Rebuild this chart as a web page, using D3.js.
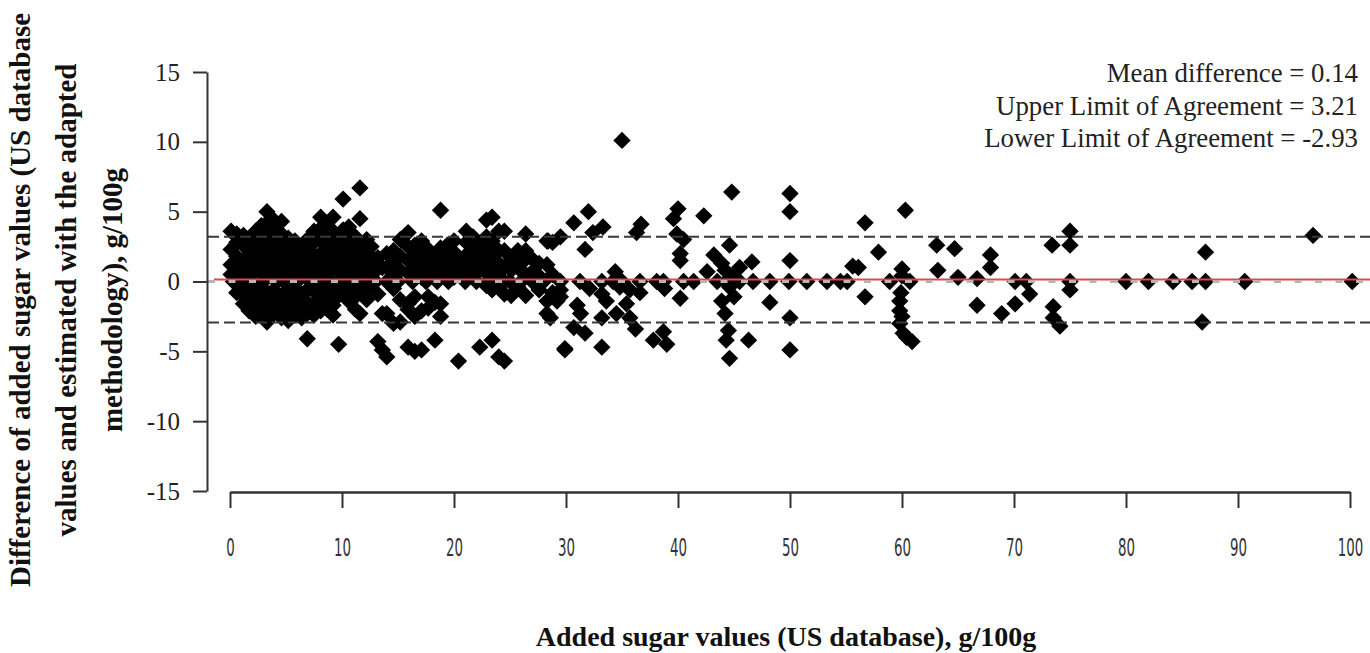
<!DOCTYPE html>
<html><head><meta charset="utf-8">
<script src="https://cdn.jsdelivr.net/npm/d3@7/dist/d3.min.js"></script>
<style>body{margin:0;background:#fff;overflow:hidden}</style>
</head><body>
<svg id="chart" width="1370" height="653"></svg>
<script>
// ---------- DATA ----------
const yTicks = [-15, -10, -5, 0, 5, 10, 15];
const xTicks = [0, 10, 20, 30, 40, 50, 60, 70, 80, 90, 100];
const meanDifference = 0.14;
const upperLimit = 3.21;
const lowerLimit = -2.93;
const statLabels = ["Mean difference = 0.14", "Upper Limit of Agreement = 3.21", "Lower Limit of Agreement = -2.93"];
const xTitle = "Added sugar values (US database), g/100g";
const yTitleLines = ["Difference of added sugar values (US database", "values and estimated with the adapted", "methodology), g/100g"];

// dense low-sugar region: [added sugar, [differences...]]
const denseColumns = [
  [0.1, [3.6, 2.3, 1.2, 0.5]],
  [0.6, [3.4, 2.8, 1.8, 0.9, -0.8]],
  [1.2, [3.3, 2.6, 1.5, 0.7, -1.0, -1.6]],
  [1.7, [3.1, 2.2, 1.4, 0.4, -0.6, -1.3, -2.1]],
  [2.3, [3.6, 2.9, 2.0, 1.1, -0.9, -1.8, -2.5]],
  [2.8, [4.0, 3.2, 2.4, 1.5, 0.6, -0.4, -1.3, -2.2]],
  [3.3, [5.0, 4.2, 3.3, 2.5, 1.6, 0.7, -0.9, -1.7, -2.9]],
  [3.9, [4.4, 3.7, 2.9, 2.0, 1.2, 0.3, -0.6, -1.5, -2.3]],
  [4.6, [4.3, 3.4, 2.6, 1.8, 0.9, -1.0, -1.9, -2.6]],
  [5.2, [3.1, 2.3, 1.5, 0.6, -0.3, -1.2, -2.0, -2.8]],
  [5.8, [2.9, 2.0, 1.1, 0.2, -0.7, -1.6, -2.4]],
  [6.4, [2.4, 1.6, 0.8, -0.9, -1.8, -2.6]],
  [6.9, [3.0, 2.1, 1.2, 0.3, -0.6, -1.5, -2.3, -4.1]],
  [7.5, [3.6, 2.8, 1.9, 1.0, 0.2, -0.7, -1.6, -2.4]],
  [8.1, [4.6, 3.8, 2.9, 2.0, 1.2, 0.3, -0.5, -1.4, -2.1]],
  [8.7, [4.0, 3.1, 2.3, 1.4, 0.6, -0.3, -1.2, -2.0]],
  [9.2, [4.6, 3.6, 2.7, 1.8, 0.9, -0.9, -1.7, -2.4]],
  [9.7, [3.3, 2.5, 1.6, 0.7, -0.2, -1.0, -4.5]],
  [10.1, [5.9, 3.7, 2.9, 2.0, 1.1, 0.3, -0.5]],
  [10.6, [3.9, 3.0, 2.1, 1.2, 0.4, -0.6, -1.4]],
  [11.2, [3.2, 2.4, 1.5, 0.6, -0.2, -1.1, -2.0]],
  [11.6, [6.7, 4.5, 2.8, 1.8, 0.9, -0.7, -2.3]],
  [12.2, [3.0, 2.1, 1.2, 0.3, -0.5, -1.3]],
  [12.6, [2.5, 1.6, 0.7]],
  [13.2, [1.7, 0.9, -0.9, -4.3]],
  [13.6, [1.0, -2.3, -4.9]]
];

const midColumns = [
  [14.0, [2.0, 1.0, -2.3, -5.4]],
  [14.6, [2.2, 1.4, 0.4, -0.5, -3.0]],
  [15.2, [3.0, 1.8, 0.8, -1.3, -2.9]],
  [15.9, [3.5, 2.5, 1.5, 0.6, -1.6, -2.0, -4.7]],
  [16.5, [2.6, 1.8, 0.9, -1.1, -2.5, -5.0]],
  [17.1, [2.9, 2.1, 1.2, 0.3, -2.1, -4.9]],
  [17.7, [2.3, 1.4, 0.5, -1.1, -1.9]],
  [18.3, [1.9, 1.1, 0.2, -1.5, -4.2]],
  [18.8, [5.1, 2.4, 1.3, 0.4, -1.6, -2.5]],
  [19.4, [2.6, 1.7, 0.8]],
  [20.0, [2.9, 2.1, 1.2, 0.3]],
  [20.4, [1.4, 0.6, -5.7]],
  [21.1, [3.6, 2.8, 1.9, 1.0, 0.2]],
  [21.7, [3.2, 2.3, 1.4, 0.5]],
  [22.3, [2.7, 1.7, 0.8, -4.7]],
  [22.9, [4.4, 3.2, 2.4, 1.5, 0.6, -0.3]],
  [23.4, [4.6, 2.9, 2.0, 1.1, 0.2, -0.6, -4.2]],
  [24.0, [3.6, 2.2, 1.3, 0.4, -0.4, -5.4]],
  [24.5, [3.6, 2.2, 1.0, -0.9, -5.7]],
  [25.1, [1.7, 0.8, -1.0]],
  [25.7, [2.2, 1.0, -0.4]],
  [26.4, [3.4, 2.2, 1.6, 0.5, -1.0]],
  [27.0, [1.6, 0.7]],
  [27.6, [1.3, 0.4, -0.6]],
  [28.3, [2.9, 1.2, -1.4, -2.3]],
  [28.8, [2.8, 0.5, -0.8]],
  [29.5, [3.2, -1.1]],
  [29.9, [-4.8]]
];

// scattered points: [added sugar, difference]
const scatterPoints = [
  [28.4, 2.9], [30.7, 4.2], [32.0, 5.0], [31.7, 2.3], [32.4, 3.5], [33.3, 3.9], [35.0, 10.1],
  [36.3, 3.5], [36.7, 4.1], [39.6, 4.5], [40.0, 5.2], [42.3, 4.7], [39.9, 3.4], [40.5, 3.0],
  [40.2, 2.0], [40.2, 1.5], [43.2, 1.9], [43.9, 1.3], [44.2, 0.8], [44.6, 2.6], [44.8, 6.4],
  [45.5, 1.0], [46.6, 1.4], [50.0, 6.3], [50.0, 5.0], [50.0, 1.5], [56.7, 4.2], [57.9, 2.1],
  [55.6, 1.1], [56.1, 1.0], [34.4, 0.7], [42.6, 0.7], [45.0, 0.3],
  [28.6, -2.6], [29.9, -4.9], [30.7, -3.3], [31.3, -2.3], [31.7, -3.7], [33.2, -4.7], [33.2, -2.6],
  [29.5, -0.6], [33.2, -0.9], [34.8, -0.4], [35.4, -1.6], [35.7, -2.6], [36.2, -3.4], [37.8, -4.2],
  [38.7, -3.6], [39.0, -4.5], [40.2, -1.2], [43.9, -1.4], [44.2, -2.3], [44.5, -3.5], [44.6, -5.5],
  [44.3, -4.2], [46.3, -4.2], [48.2, -1.5], [50.0, -2.6], [50.0, -4.9], [56.7, -1.1], [29.2, -1.4],
  [31.0, -1.7], [33.6, -1.4], [34.5, -2.3], [35.7, -0.6], [32.1, -0.5], [36.6, -0.8], [38.8, -0.5],
  [44.6, -0.4], [45.0, -1.1],
  [60.3, 5.1], [60.0, 0.9], [60.0, 0.4], [59.9, -0.8], [59.8, -1.4], [59.8, -2.1], [60.0, -2.5],
  [59.8, -3.0], [60.1, -3.7], [60.4, -4.0], [60.9, -4.3],
  [63.1, 2.6], [64.7, 2.35], [63.2, 0.8], [65.0, 0.3], [66.7, 0.2], [66.7, -1.7], [67.9, 1.9],
  [67.9, 1.0], [68.9, -2.3], [70.1, -1.6], [71.4, -0.9], [73.4, 2.6], [75.0, 3.6], [75.0, 2.6],
  [75.0, -0.6], [73.5, -1.8], [73.5, -2.6], [74.1, -3.2], [87.1, 2.1], [86.8, -2.9], [96.7, 3.3]
];

// points lying on zero difference (added sugar values)
const zeroRow = [
  0.3, 1.0, 2.0, 3.0, 4.2, 5.0, 6.0, 7.2, 8.0, 9.0, 10.0, 11.0, 12.0, 13.0, 14.0, 15.0, 16.3,
  17.5, 18.5, 19.5, 21.0, 22.0, 23.0, 24.0, 25.0, 26.0, 27.0, 28.0, 29.5, 31.25, 33.2, 34.2,
  35.0, 36.6, 38.1, 38.7, 40.5, 41.4, 43.5, 44.3, 45.5, 46.7, 48.2, 49.9, 51.5, 53.3, 54.5,
  55.1, 58.9, 60.7, 70.1, 71.1, 75.0, 80.0, 82.0, 84.2, 85.9, 87.1, 90.6, 100.2
];

// ---------- BUILD ----------
const points = [];
denseColumns.concat(midColumns).forEach(([x, ds]) => ds.forEach(d => points.push([x, d])));
scatterPoints.forEach(p => points.push(p));
zeroRow.forEach(x => points.push([x, 0]));

const svg = d3.select("#chart");
const x = d3.scaleLinear().domain([0, 100]).range([230, 1350]);
const y = d3.scaleLinear().domain([-15, 15]).range([491, 72]);

const serif = "'Liberation Serif','Times New Roman',serif";

// points
const sym = d3.symbol().type(d3.symbolSquare).size(150);
svg.append("g").selectAll("path").data(points).join("path")
  .attr("d", sym)
  .attr("transform", d => `translate(${x(d[0])},${y(d[1])}) rotate(45)`)
  .attr("fill", "#000");

// reference lines
const lineG = svg.append("g");
[upperLimit, lowerLimit].forEach(v => {
  lineG.append("line").attr("x1", 208).attr("x2", 1370).attr("y1", y(v)).attr("y2", y(v))
    .attr("stroke", "#3a3a3a").attr("stroke-width", 2).attr("stroke-dasharray", "11,5");
});
lineG.append("line").attr("x1", 214).attr("x2", 1370).attr("y1", y(meanDifference)).attr("y2", y(meanDifference))
  .attr("stroke", "#e04a44").attr("stroke-width", 2);
lineG.append("line").attr("x1", 208).attr("x2", 1370).attr("y1", y(0)).attr("y2", y(0))
  .attr("stroke", "#b5b5b5").attr("stroke-width", 3).attr("stroke-dasharray", "7,13.5");

// y axis
const yAxis = svg.append("g").attr("transform", "translate(207,0)")
  .call(d3.axisLeft(y).tickValues(yTicks).tickSize(14).tickSizeOuter(0).tickPadding(13).tickFormat(d => String(d)));
yAxis.select(".domain").attr("stroke", "#333").attr("stroke-width", 2);
yAxis.selectAll(".tick line").attr("stroke", "#333").attr("stroke-width", 2);
yAxis.selectAll(".tick text").attr("font-family", serif).attr("font-size", 25).attr("fill", "#222");

// x axis
const xAxis = svg.append("g").attr("transform", "translate(0,492)")
  .call(d3.axisBottom(x).tickValues(xTicks).tickSize(16).tickSizeOuter(0).tickPadding(31));
xAxis.select(".domain").attr("stroke", "#333").attr("stroke-width", 2.5);
xAxis.selectAll(".tick line").attr("stroke", "#333").attr("stroke-width", 2);
xAxis.selectAll(".tick text")
  .attr("font-family", "'DejaVu Sans Condensed','DejaVu Sans',sans-serif")
  .attr("font-size", 24).attr("fill", "#333")
  .attr("transform", "scale(0.62,1)");

// stats text
svg.append("g").selectAll("text").data(statLabels).join("text")
  .attr("x", 1358).attr("y", (d, i) => 82 + i * 32.5)
  .attr("text-anchor", "end").attr("font-family", serif).attr("font-size", 26.8).attr("fill", "#222")
  .text(d => d);

// axis titles
svg.append("text").attr("x", 786).attr("y", 646).attr("text-anchor", "middle")
  .attr("font-family", serif).attr("font-weight", "bold").attr("font-size", 28).attr("fill", "#111")
  .text(xTitle);

svg.append("g").selectAll("text").data(yTitleLines).join("text")
  .attr("transform", (d, i) => `translate(${30 + i * 46},300) rotate(-90)`)
  .attr("text-anchor", "middle").attr("font-family", serif).attr("font-weight", "bold")
  .attr("font-size", 29).attr("fill", "#111")
  .text(d => d);
</script>
</body></html>
